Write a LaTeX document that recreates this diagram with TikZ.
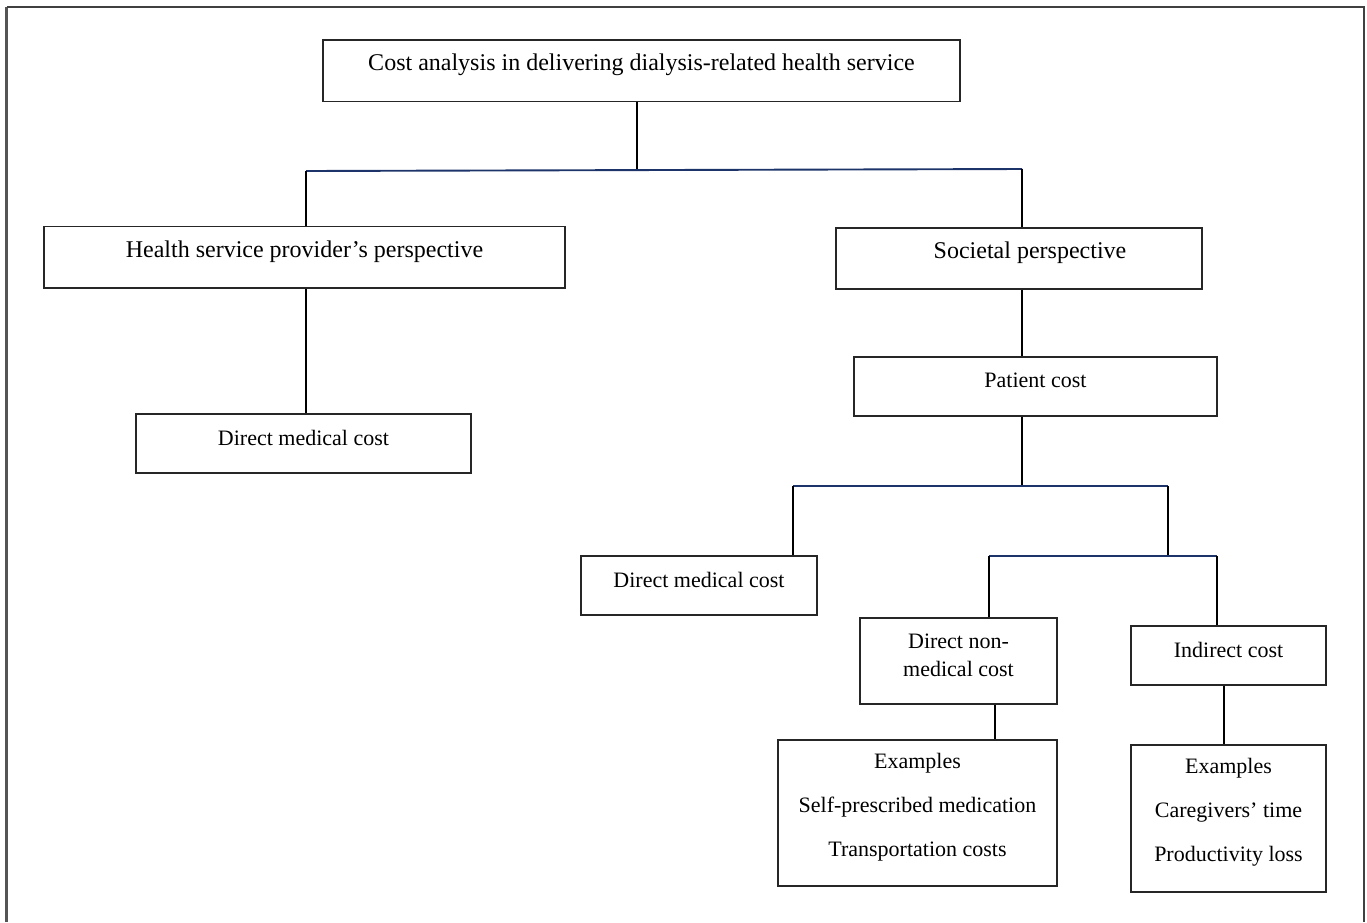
\documentclass[tikz,border=0pt]{standalone}
\usepackage{fontspec}
\setmainfont{Liberation Serif}
\definecolor{BusNavy}{RGB}{28, 52, 105}
\definecolor{FrameGrey}{RGB}{85, 85, 85}
\usepackage{tikz}

\begin{document}
\begin{tikzpicture}[
                x=1pt, y=-1pt,
                box/.style={rectangle, draw=black!85, line width=1.4pt, inner sep=0pt},
                big/.style={font=\fontsize{24}{29}\selectfont, yshift=6pt},
                small/.style={font=\fontsize{22}{28}\selectfont, yshift=6pt, align=center},
                spaced/.style={small, font=\fontsize{22}{44}\selectfont},
                link/.style={line width=1.7pt, draw=black},
                bus/.style={line width=1.9pt, draw=BusNavy}
            ]
                \useasboundingbox (0,0) rectangle (1367,922);
                % outer frame
                \draw[line width=2.2pt, FrameGrey] (6.5,922) -- (6.5,6.5);
                \draw[line width=2pt, black!75] (6.5,6.5) -- (1364,6.5) -- (1364,922);

                \node (cost) [box, minimum width=637, minimum height=61.5, label={[big]center:Cost analysis in delivering dialysis-related health service}] at (641.5,70.75) {};
                \node (hsp) [box, minimum width=521, minimum height=61.5, label={[big]center:Health service provider’s perspective}] at (304.5,257.25) {};
                \node (soc) [box, minimum width=366, minimum height=61, label={[big, xshift=11pt]center:Societal perspective}] at (1019,258.5) {};
                \node (pat) [box, minimum width=363, minimum height=59, label={[small]center:Patient cost}] at (1035.5,386.5) {};
                \node (dmcl) [box, minimum width=335, minimum height=59, label={[small]center:Direct medical cost}] at (303.5,443.5) {};
                \node (dmcm) [box, minimum width=236, minimum height=59, label={[small]center:Direct medical cost}] at (699,585.5) {};
                \node (dnm) [box, minimum width=197, minimum height=86, label={[small]center:Direct non-\\medical cost}] at (958.5,661) {};
                \node (ind) [box, minimum width=195, minimum height=59, label={[small]center:Indirect cost}] at (1228.5,655.5) {};
                \node (exa) [box, minimum width=279, minimum height=146, label={[spaced]center:Examples\\Self-prescribed medication\\Transportation costs}] at (917.5,813) {};
                \node (exb) [box, minimum width=195, minimum height=147, label={[spaced]center:Examples\\Caregivers’ time\\Productivity loss}] at (1228.5,818.5) {};

                \coordinate (b1m) at (637,170);
                \coordinate (b1l) at (306,171);
                \coordinate (b1r) at (1022,169);
                \coordinate (b2l) at (793,486);
                \coordinate (b2r) at (1168,486);
                \coordinate (b3l) at (989,556);
                \coordinate (b3r) at (1217,556);

                \draw [link] (cost.south -| b1m) -- (b1m);
                \draw [bus] (b1l) -- (b1r);
                \draw [link] (b1l) -- (b1l |- hsp.north);
                \draw [link] (b1r) -- (b1r |- soc.north);
                \draw [link] (hsp.south -| b1l) -- (dmcl.north -| b1l);
                \draw [link] (soc.south -| b1r) -- (pat.north -| b1r);
                \draw [link] (pat.south -| b1r) -- (b1r |- b2l);
                \draw [bus] (b2l) -- (b2r);
                \draw [link] (b2l) -- (b2l |- dmcm.north);
                \draw [link] (b2r) -- (b2r |- b3l);
                \draw [bus] (b3l) -- (b3r);
                \draw [link] (b3l) -- (b3l |- dnm.north);
                \draw [link] (b3r) -- (b3r |- ind.north);
                \draw [link] ([xshift=36.5]dnm.south) -- ([xshift=36.5]dnm.south |- exa.north);
                \draw [link] ([xshift=-4.5]ind.south) -- ([xshift=-4.5]ind.south |- exb.north);
            \end{tikzpicture}
\end{document}
